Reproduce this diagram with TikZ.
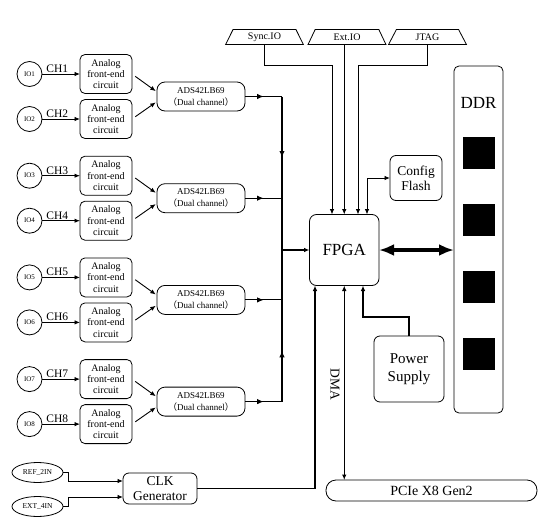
\documentclass[tikz,border=0pt]{standalone}
\usepackage{fontspec}
\setmainfont{Liberation Serif}
\newfontfamily\cjkfont{Noto Sans CJK SC}
\usetikzlibrary{arrows.meta,shapes.geometric,decorations.markings}
\newcommand\fsz[2]{\fontsize{#1}{#2}\selectfont}
\begin{document}
\begin{tikzpicture}[x=1pt,y=-1pt,
 every node/.style={inner sep=0pt, outer sep=0pt},
 box/.style={draw, line width=0.8pt, rounded corners=5pt, align=center},
 afe/.style={box, minimum width=52pt, minimum height=39pt, font=\fsz{10}{11.3}},
 ads/.style={box, rounded corners=8pt, minimum width=88pt, minimum height=29pt, font=\fsz{9}{12}},
 io/.style={draw, circle, line width=0.8pt, minimum size=25pt, font=\fsz{7}{8}},
 ell/.style={draw, ellipse, line width=0.8pt, minimum width=51pt, minimum height=20pt, font=\fsz{7.5}{8}},
 trap/.style={draw, trapezium, trapezium stretches=true, trapezium angle=66, minimum width=78pt, minimum height=15pt, line width=0.8pt, font=\fsz{10}{11}},
 conn/.style={line width=0.9pt},
 tip/.style={-{Latex[length=5.5pt,width=4.5pt]}},
 arr/.style={conn, tip},
 darr/.style={conn, {Latex[length=5.5pt,width=4.5pt]}-{Latex[length=5.5pt,width=4.5pt]}},
 midarr/.style={postaction={decorate}, decoration={markings, mark=at position #1 with {\arrow{Latex[length=6.5pt,width=5.5pt]}}}},
 bus/.style={line width=1.3pt},
 lab/.style={font=\fsz{11.5}{12}},
 mem/.style={fill=black, minimum size=32pt}
]
\useasboundingbox (0,0) rectangle (550,528);

% ADC groups
\foreach \k/\y in {1/96.5, 2/198.2, 3/299.9, 4/401.6} {
  \pgfmathtruncatemacro\a{2*\k-1}
  \pgfmathtruncatemacro\b{2*\k}
  \node[ads] (ads\k) at (201,\y) {ADS42LB69\\{\cjkfont （}Dual channel{\cjkfont ）}};
  \node[afe] (afe\a) at (106,\y-22.5) {Analog\\front-end\\circuit};
  \node[afe] (afe\b) at (106,\y+22.5) {Analog\\front-end\\circuit};
  \node[io] (io\a) at (29.5,\y-22.5) {IO\a};
  \node[io] (io\b) at (29.5,\y+22.5) {IO\b};
  \draw[arr] (io\a) -- node[lab, above=1.5pt, pos=0.4] {CH\a} (afe\a);
  \draw[arr] (io\b) -- node[lab, above=1.5pt, pos=0.4] {CH\b} (afe\b);
  \draw[arr, shorten <=4pt, shorten >=1.5pt] (afe\a.east) -- ([yshift=4.5pt]ads\k.west);
  \draw[arr, shorten <=4pt, shorten >=1.5pt] (afe\b.east) -- ([yshift=-5pt]ads\k.west);
  \coordinate (bus\k) at (282,\y);
  \draw[conn, midarr=0.5] (ads\k.east) -- (bus\k);
}

% FPGA and surroundings
\node[box, rounded corners=7pt, minimum width=69.5pt, minimum height=71pt, font=\fsz{17}{20}] (fpga) at (344.25,250) {FPGA};
\node[box, rounded corners=6pt, minimum width=52pt, minimum height=45pt, font=\fsz{13.5}{15}] (cfg) at (416,178) {Config\\Flash};
\node[box, rounded corners=5pt, minimum width=49pt, minimum height=347pt] (ddr) at (478.5,239.5) {};
\node[font=\fsz{17}{20}] (ddrl) at (478.5,103) {DDR};
\node[mem] (m1) at (479,153) {};
\node[mem] (m2) at (479,220) {};
\node[mem] (m3) at (479,287) {};
\node[mem] (m4) at (479,354) {};
\node[box, rounded corners=6pt, minimum width=70pt, minimum height=66pt, font=\fsz{15}{18}] (pwr) at (409,369) {Power\\Supply};
\node[box, rounded corners=10pt, minimum width=211pt, minimum height=21pt, font=\fsz{14}{16}] (pcie) at (431.5,490.5) {PCIe X8 Gen2};
\node[box, rounded corners=6pt, minimum width=74pt, minimum height=31pt, font=\fsz{13.5}{15.6}] (clk) at (160,488.5) {CLK\\Generator};
\node[ell] (ref) at (37.5,472.5) {REF\_2IN};
\node[ell] (ext) at (37.5,506.5) {EXT\_4IN};
\node[trap] (sync) at (264.5,37) {Sync.IO};
\node[trap] (extio) at (347,37) {Ext.IO};
\node[trap] (jtag) at (427.5,37) {JTAG};
\node[font=\fsz{13.5}{15}, rotate=-90] (dma) at (335,384) {DMA};

% bus
\coordinate (busj) at (282,250);
\draw[bus, midarr=0.6] (bus1) -- (bus2);
\draw[bus] (bus2) -- (bus3);
\draw[bus, midarr=0.5] (bus4) -- (bus3);
\draw[bus, tip] (busj) -- (busj -| fpga.west);

% top connections
\coordinate (sk) at (332,65);
\coordinate (jk) at (358,65);
\coordinate (fk) at (367,0);
\draw[arr] (sync.south) |- (sk) -- (sk |- fpga.north);
\draw[arr] (extio.south -| fpga.north) -- (fpga.north);
\draw[arr] (jtag.south) |- (jk) -- (jk |- fpga.north);
\draw[darr] (fk |- fpga.north) |- (cfg.west);

% DDR
\draw[line width=3.5pt, {Latex[length=15pt,width=12pt]}-{Latex[length=15pt,width=12pt]}] (fpga.east) -- (fpga.east -| ddr.west);

% bottom connections
\coordinate (pk) at (363,317);
\draw[bus, tip] (pwr.north) |- (pk) -- (pk |- fpga.south);
\draw[bus, {Latex[length=5.5pt,width=4.5pt]}-{Latex[length=5.5pt,width=4.5pt]}] (fpga.south) -- (fpga.south |- pcie.north);
\coordinate (ck) at (315,0);
\draw[bus, tip] (clk.east) -| (ck |- fpga.south);

% clock inputs
\coordinate (rk) at (68,481);
\coordinate (ek) at (68,497);
\draw[arr] (ref.east) -| (rk) -- (rk -| clk.west);
\draw[arr] (ext.east) -| (ek) -- (ek -| clk.west);
\end{tikzpicture}
\end{document}
